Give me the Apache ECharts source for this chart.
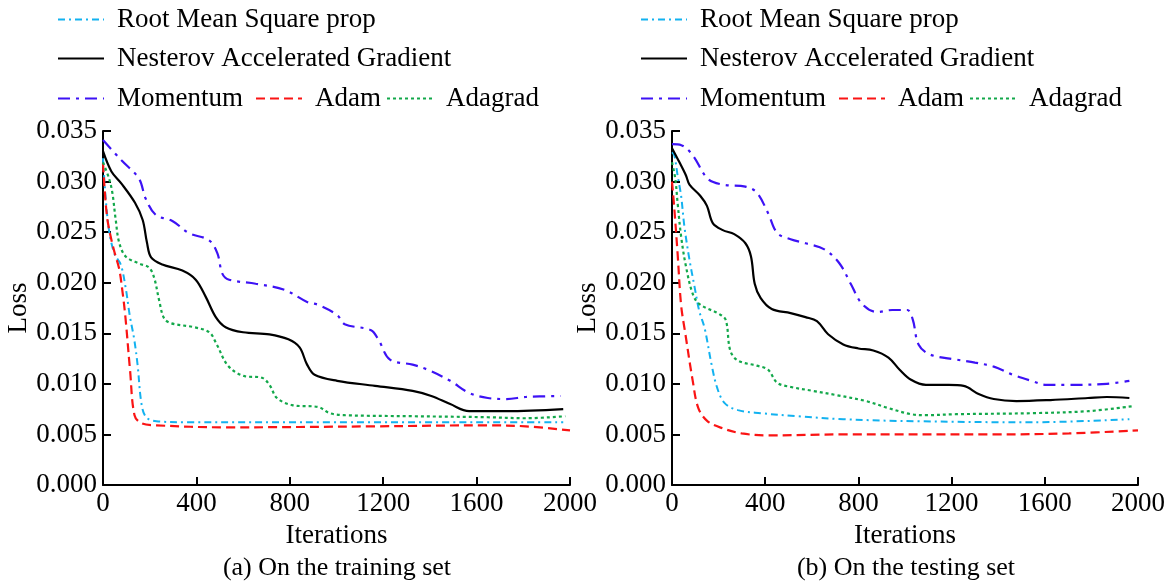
<!DOCTYPE html>
<html>
<head>
<meta charset="utf-8">
<script src="https://cdn.jsdelivr.net/npm/echarts@6/dist/echarts.min.js"></script>
<style>
html, body { margin: 0; padding: 0; background: #fff; }
#main { width: 1170px; height: 585px; }
</style>
</head>
<body>
<div id="main"></div>
<script>
// series names (legend order)
const names = ["Root Mean Square prop", "Nesterov Accelerated Gradient", "Momentum", "Adam", "Adagrad"];
const xTicks = [0, 400, 800, 1200, 1600, 2000];
const captions = ["(a) On the training set", "(b) On the testing set"];

// training set: [iteration, loss]
const trainRMSprop = [[0,0.0323],[11,0.0285],[27,0.0250],[50,0.0228],[76,0.0218],[97,0.0195],[115,0.0167],[133,0.0145],[148,0.0119],[165,0.0080],[185,0.0067],[229,0.0063],[360,0.0062],[1000,0.0062],[1971,0.0062]];
const trainNesterov = [[0,0.0330],[36,0.0310],[79,0.0298],[137,0.0279],[170,0.0262],[188,0.0240],[206,0.0225],[254,0.0218],[340,0.0212],[397,0.0203],[440,0.0186],[483,0.0166],[525,0.0156],[600,0.0151],[713,0.0149],[794,0.0144],[842,0.0136],[874,0.0119],[906,0.0109],[1003,0.0103],[1165,0.0098],[1326,0.0093],[1406,0.0088],[1487,0.0080],[1568,0.0073],[1729,0.0073],[1971,0.0075]];
const trainMomentum = [[0,0.0341],[79,0.0321],[154,0.0303],[183,0.0283],[226,0.0267],[297,0.0261],[369,0.0249],[454,0.0242],[490,0.0229],[511,0.0209],[540,0.0203],[654,0.0199],[777,0.0193],[874,0.0181],[923,0.0178],[1003,0.0168],[1035,0.0159],[1148,0.0153],[1181,0.0143],[1229,0.0124],[1326,0.0119],[1390,0.0114],[1487,0.0103],[1568,0.0091],[1648,0.0086],[1729,0.0085],[1810,0.0087],[1960,0.0088]];
const trainAdam = [[0,0.0318],[11,0.0280],[22,0.0258],[47,0.0232],[69,0.0214],[83,0.0192],[96,0.0166],[116,0.0113],[135,0.0069],[165,0.0061],[229,0.0059],[519,0.0057],[1165,0.0058],[1648,0.0059],[1810,0.0058],[2000,0.0054]];
const trainAdagrad = [[0,0.0319],[26,0.0303],[40,0.0289],[54,0.0263],[69,0.0240],[97,0.0226],[154,0.0219],[197,0.0215],[219,0.0205],[240,0.0183],[261,0.0165],[290,0.0160],[390,0.0156],[455,0.0151],[487,0.0139],[535,0.0118],[600,0.0108],[681,0.0106],[713,0.0099],[745,0.0086],[810,0.0079],[923,0.0077],[971,0.0071],[1035,0.0069],[1326,0.0068],[1648,0.0067],[1810,0.0066],[1980,0.0068]];

// testing set: [iteration, loss]
const testRMSprop = [[0,0.0329],[10,0.0326],[24,0.0306],[39,0.0286],[53,0.0256],[74,0.0224],[96,0.0197],[117,0.0172],[140,0.0155],[170,0.0119],[194,0.0096],[226,0.0081],[283,0.0074],[380,0.0071],[541,0.0068],[735,0.0065],[1058,0.0063],[1543,0.0062],[1963,0.0065]];
const testNesterov = [[0,0.0333],[32,0.0319],[60,0.0306],[75,0.0297],[121,0.0286],[150,0.0276],[175,0.0259],[218,0.0252],[267,0.0248],[315,0.0239],[339,0.0226],[355,0.0199],[380,0.0185],[428,0.0174],[509,0.0170],[573,0.0166],[622,0.0162],[670,0.0149],[735,0.0139],[800,0.0135],[864,0.0133],[929,0.0126],[977,0.0114],[1026,0.0104],[1090,0.0099],[1187,0.0099],[1252,0.0098],[1316,0.0090],[1381,0.0085],[1478,0.0083],[1624,0.0084],[1785,0.0086],[1866,0.0087],[1963,0.0086]];
const testMomentum = [[0,0.0337],[40,0.0336],[89,0.0326],[153,0.0303],[218,0.0297],[315,0.0295],[364,0.0289],[412,0.0269],[452,0.0249],[509,0.0243],[573,0.0239],[654,0.0233],[719,0.0219],[767,0.0199],[816,0.0179],[880,0.0171],[945,0.0173],[1010,0.0173],[1034,0.0163],[1058,0.0139],[1107,0.0129],[1220,0.0124],[1300,0.0121],[1381,0.0117],[1462,0.0109],[1543,0.0103],[1607,0.0099],[1704,0.0099],[1866,0.0100],[1963,0.0103]];
const testAdam = [[0,0.0300],[10,0.0273],[24,0.0229],[39,0.0178],[57,0.0150],[89,0.0103],[113,0.0076],[153,0.0063],[218,0.0056],[299,0.0051],[412,0.0049],[735,0.0050],[1381,0.0050],[1704,0.0051],[2000,0.0054]];
const testAdagrad = [[0,0.0319],[14,0.0303],[24,0.0279],[39,0.0246],[60,0.0216],[89,0.0189],[117,0.0179],[203,0.0169],[231,0.0163],[250,0.0133],[283,0.0123],[364,0.0118],[412,0.0114],[452,0.0101],[509,0.0097],[606,0.0093],[703,0.0089],[832,0.0083],[929,0.0076],[1026,0.0070],[1090,0.0069],[1220,0.0070],[1543,0.0071],[1785,0.0073],[1979,0.0078]];

const font = '"Liberation Serif", "Times New Roman", serif';
const styles = {
  "Root Mean Square prop": { color: "#12b2f0", type: [7, 4, 2, 4], width: 2 },
  "Nesterov Accelerated Gradient": { color: "#000000", type: "solid", width: 2.2 },
  "Momentum": { color: "#3d12f5", type: [12, 6, 3, 6], width: 2.2 },
  "Adam": { color: "#fa1414", type: [9, 5], width: 2.2 },
  "Adagrad": { color: "#12a84a", type: [3, 3], width: 2.2 }
};

const myChart = echarts.init(document.getElementById("main"));

function makeSeries(name, data, idx) {
  const s = styles[name];
  return {
    name: name,
    type: "line",
    xAxisIndex: idx,
    yAxisIndex: idx,
    data: data,
    symbol: "none",
    smooth: 0.35,
    itemStyle: { color: s.color },
    lineStyle: { color: s.color, type: s.type, width: s.width }
  };
}

function makeX(idx) {
  return {
    type: "value",
    gridIndex: idx,
    min: 0,
    max: 2000,
    interval: 400,
    name: "Iterations",
    nameLocation: "middle",
    nameGap: 37,
    nameTextStyle: { fontFamily: font, fontSize: 27, color: "#000" },
    axisLine: { lineStyle: { color: "#000", width: 2 } },
    axisTick: { inside: true, length: 8, lineStyle: { color: "#000", width: 2 } },
    axisLabel: { fontFamily: font, fontSize: 27, color: "#000", margin: 5, formatter: v => String(v) },
    splitLine: { show: false }
  };
}

function makeY(idx) {
  return {
    type: "value",
    gridIndex: idx,
    min: 0,
    max: 0.035,
    interval: 0.005,
    name: "Loss",
    nameLocation: "middle",
    nameGap: 68,
    nameTextStyle: { fontFamily: font, fontSize: 27, color: "#000" },
    axisLine: { show: true, lineStyle: { color: "#000", width: 2 } },
    axisTick: { show: true, inside: true, length: 8, lineStyle: { color: "#000", width: 2 } },
    axisLabel: { fontFamily: font, fontSize: 27, color: "#000", margin: 6, formatter: v => v.toFixed(3) },
    splitLine: { show: false }
  };
}

// legends: rows laid out like the figure
const legendRows = [
  { items: ["Root Mean Square prop"], top: 6, offset: 0 },
  { items: ["Nesterov Accelerated Gradient"], top: 45, offset: 0 },
  { items: ["Momentum"], top: 85, offset: 0 },
  { items: ["Adam"], top: 85, offset: 198 },
  { items: ["Adagrad"], top: 85, offset: 329 }
];
const legends = [];
[57, 640].forEach(base => {
  legendRows.forEach(r => {
    legends.push({
      data: r.items,
      left: base + r.offset,
      top: r.top,
      padding: 0,
      itemWidth: 46,
      itemHeight: 14,
      itemStyle: { opacity: 0 },
      textStyle: { fontFamily: font, fontSize: 27, color: "#000", padding: [0, 0, 0, 8] }
    });
  });
});

const option = {
  animation: false,
  backgroundColor: "#fff",
  legend: legends,
  grid: [
    { left: 103, right: 600, top: 131, bottom: 100 },
    { left: 672, right: 32, top: 131, bottom: 100 }
  ],
  xAxis: [makeX(0), makeX(1)],
  yAxis: [makeY(0), makeY(1)],
  graphic: [
    { type: "text", x: 337, y: 568, style: { text: captions[0], font: "26px " + font, fill: "#000", textAlign: "center", textVerticalAlign: "middle" } },
    { type: "text", x: 906, y: 568, style: { text: captions[1], font: "26px " + font, fill: "#000", textAlign: "center", textVerticalAlign: "middle" } }
  ],
  series: [
    makeSeries(names[0], trainRMSprop, 0),
    makeSeries(names[1], trainNesterov, 0),
    makeSeries(names[2], trainMomentum, 0),
    makeSeries(names[3], trainAdam, 0),
    makeSeries(names[4], trainAdagrad, 0),
    makeSeries(names[0], testRMSprop, 1),
    makeSeries(names[1], testNesterov, 1),
    makeSeries(names[2], testMomentum, 1),
    makeSeries(names[3], testAdam, 1),
    makeSeries(names[4], testAdagrad, 1)
  ]
};
myChart.setOption(option);
</script>
</body>
</html>
